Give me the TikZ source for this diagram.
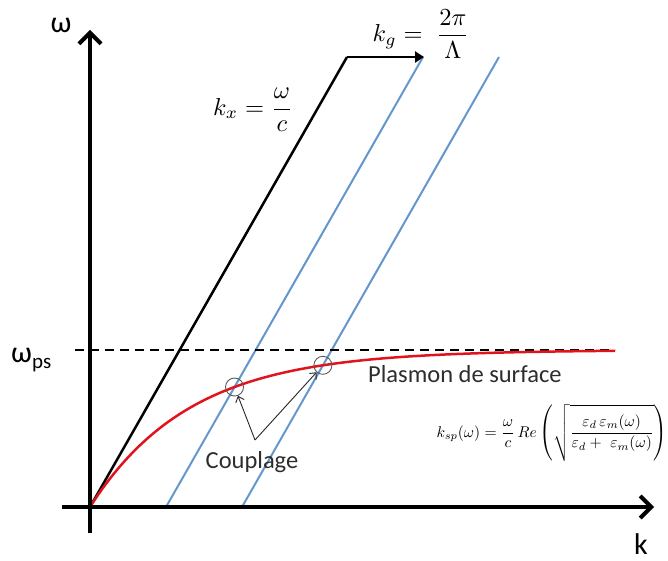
\documentclass[tikz,border=0pt]{standalone}
\usepackage{amsmath}
\usepackage{graphicx}
\usepackage{fontspec}
\newfontfamily\carl{Carlito}
\usetikzlibrary{arrows.meta,intersections,calc}
\definecolor{lineblue}{RGB}{100,150,205}
\definecolor{curvered}{RGB}{225,20,30}
\definecolor{txtgray}{RGB}{45,45,45}
\begin{document}
\begin{tikzpicture}[x=1pt,y=-1pt,
  axis/.style={line width=4pt,-{Straight Barb[length=11pt,width=22pt]}},
  lightline/.style={line width=2pt,lineblue},
  blackline/.style={line width=2.5pt,black},
  couplearrow/.style={line width=0.9pt,black!85,-{Straight Barb[length=5pt,width=9pt]}},
  markcircle/.style={draw=black!65,line width=0.9pt,circle,minimum size=18pt,inner sep=0pt},
  lab/.style={inner sep=0pt,txtgray,font=\carl\fontsize{24.5}{28}\selectfont},
  axislab/.style={inner sep=0pt,black,font=\carl\fontsize{30}{33}\selectfont},
  mathlab/.style={inner sep=0pt,black}]
\useasboundingbox (0,0) rectangle (668,561);
% coordinates
\coordinate (O) at (90,507);
\coordinate (Ybot) at (90,533);
\coordinate (Ytop) at (90,30);
\coordinate (Xleft) at (62,507);
\coordinate (Xright) at (654,507);
\coordinate (T) at (347,57);
\coordinate (G) at (424,57);
\coordinate (B1a) at (166,507);
\coordinate (B1b) at (423,57);
\coordinate (B2a) at (242,507);
\coordinate (B2b) at (499,57);
\coordinate (Da) at (75,350);
\coordinate (Db) at (615,350);
\coordinate (V) at (255,440);
% blue lines
\draw[lightline,name path=b1] (B1a) -- (B1b);
\draw[lightline,name path=b2] (B2a) -- (B2b);
% light line
\draw[blackline] (O) -- (T);
\draw[blackline,-{Triangle[length=9pt,width=11pt]}] (T) -- (G);
% dashed
\draw[line width=2.5pt,dash pattern=on 9pt off 6pt] (Da) -- (Db);
% red curve
\draw[line width=2.5pt,curvered,name path=red] plot[domain=90:615,samples=120,smooth] (\x,{507-157*(1-exp(-(\x-90)/100))});
% axes
\draw[axis] (Ybot) -- (Ytop);
\draw[axis] (Xleft) -- (Xright);
% coupling points
\path[name intersections={of=red and b1,by=I1}];
\path[name intersections={of=red and b2,by=I2}];
\node[markcircle] (C1) at (I1) {};
\node[markcircle] (C2) at (I2) {};
\draw[couplearrow] (V) -- (C1);
\draw[couplearrow] (V) -- (C2);
% labels
\node[axislab] (lw) at (61,25) {ω};
\node[axislab,anchor=base] (lk) at (641,554) {k};
\node[axislab,anchor=base west] (lwps) at (11,362) {ω\raisebox{-6pt}{\fontsize{21}{24}\selectfont ps}};
\node[lab,anchor=base west] (plasmon) at (368,382) {Plasmon de surface};
\node[lab,anchor=base] (coupl) at (252,468) {Couplage};
\node[mathlab] (kx) at (253,110) {\scalebox{2.45}{$k_x = \dfrac{\omega}{c}$}};
\node[mathlab] (kg) at (421,34) {\scalebox{2.45}{$k_g =\; \dfrac{2\pi}{\Lambda}$}};
\node[mathlab] (ksp) at (552,433) {\scalebox{1.56}{$k_{sp}(\omega) = \dfrac{\omega}{c}\,Re\left(\sqrt{\dfrac{\rule[-3pt]{0pt}{15pt}\varepsilon_d\,\varepsilon_m(\omega)}{\rule[-8pt]{0pt}{12pt}\varepsilon_d+\ \varepsilon_m(\omega)}}\right)$}};
\end{tikzpicture}
\end{document}
